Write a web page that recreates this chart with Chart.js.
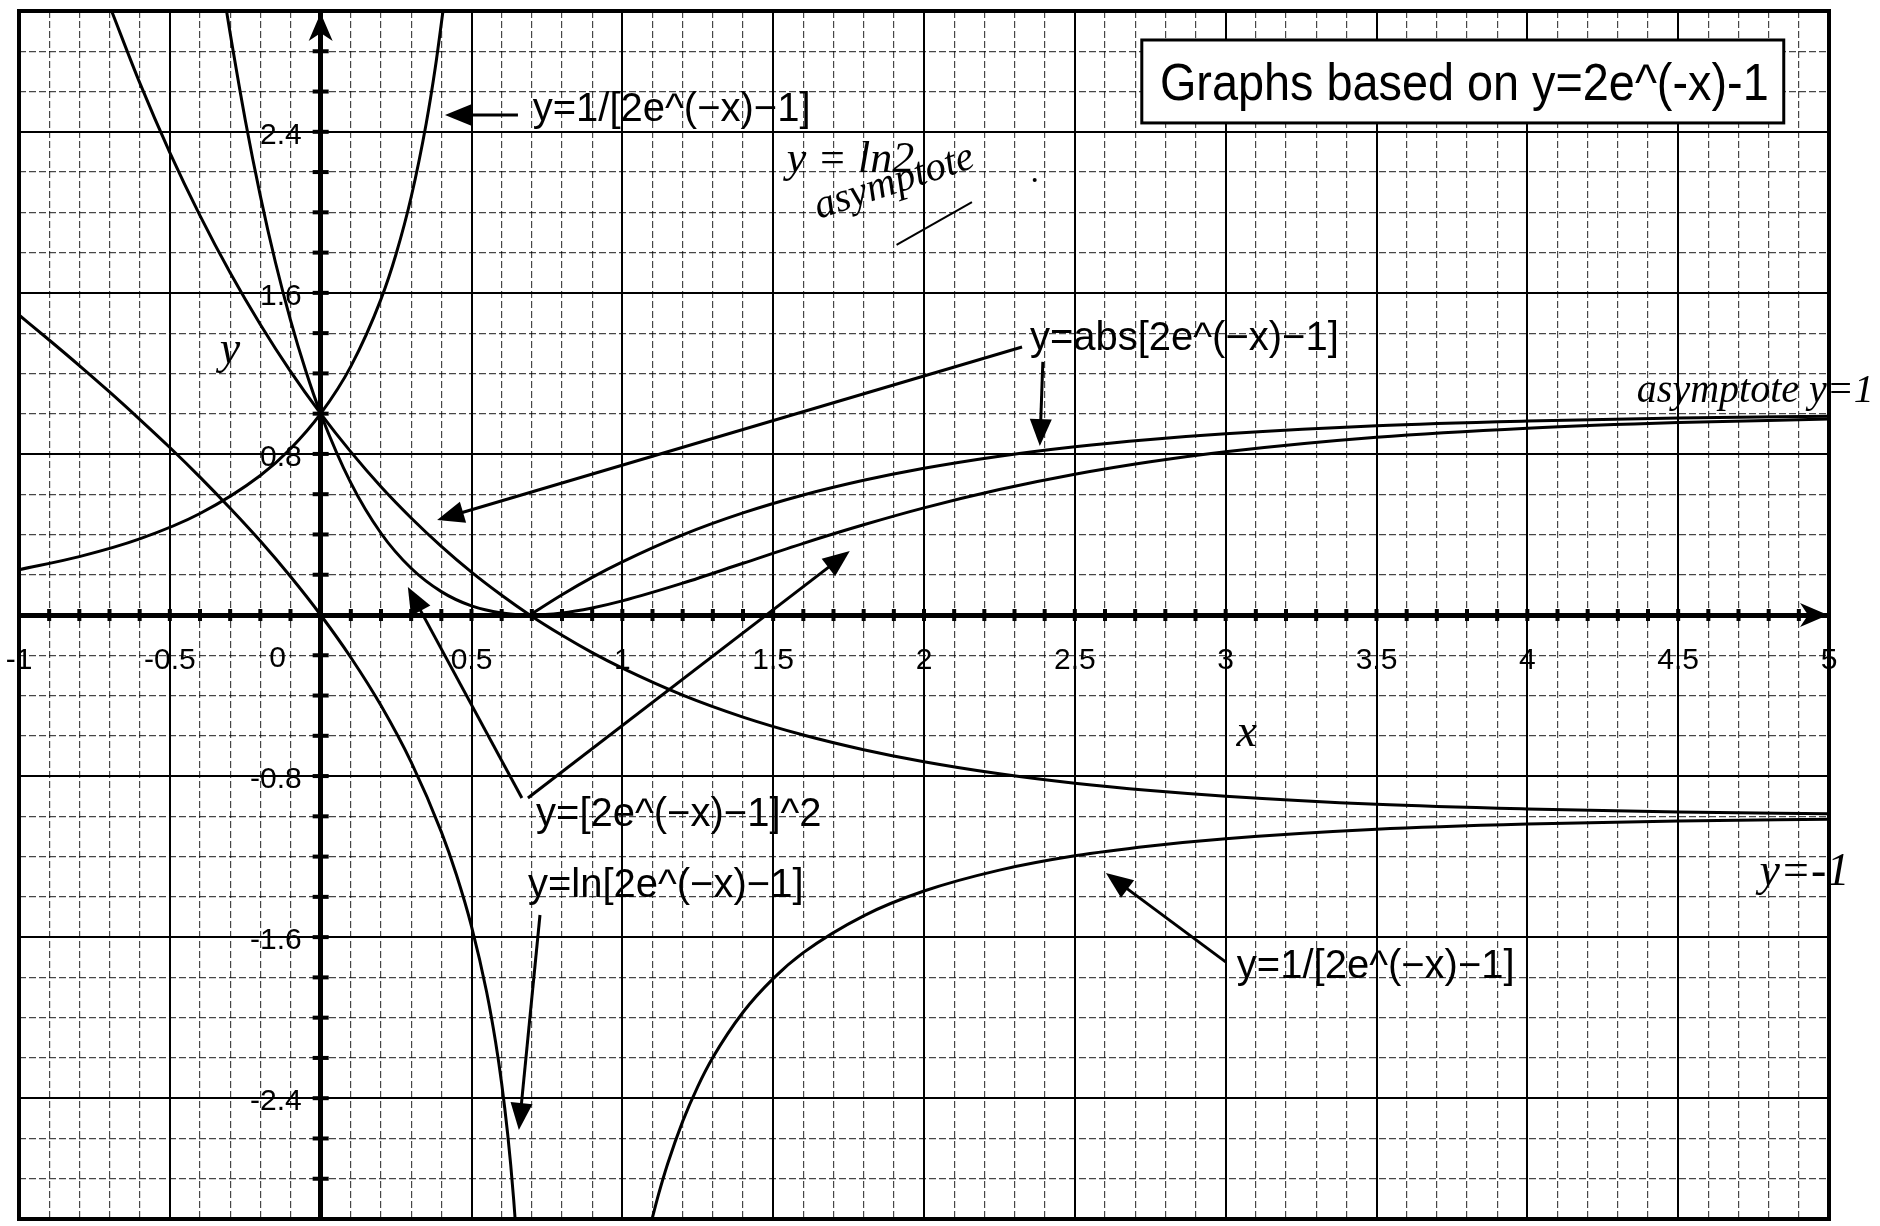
<!DOCTYPE html>
<html>
<head>
<meta charset="utf-8">
<title>Graphs based on y=2e^(-x)-1</title>
<script src="https://cdn.jsdelivr.net/npm/chart.js@4.4.1/dist/chart.umd.min.js"></script>
<style>
  html, body { margin: 0; padding: 0; background: #fff; }
  #wrap { width: 1880px; height: 1226px; }
</style>
</head>
<body>
<div id="wrap"><canvas id="myChart" width="1880" height="1226"></canvas></div>
<script>

// y = 2e^(-x) - 1  (also the left half of abs[...])
var baseX = [-0.693, -0.6, -0.5, -0.4, -0.3, -0.2, -0.1, 0, 0.1, 0.2, 0.3, 0.4, 0.5, 0.6, 0.693, 0.8, 0.9, 1, 1.2, 1.4, 1.6, 1.8, 2, 2.25, 2.5, 2.75, 3, 3.5, 4, 4.5, 5];
var baseY = [3, 2.644, 2.297, 1.984, 1.700, 1.443, 1.210, 1, 0.810, 0.637, 0.482, 0.341, 0.213, 0.098, 0, -0.101, -0.187, -0.264, -0.398, -0.507, -0.596, -0.669, -0.729, -0.789, -0.836, -0.872, -0.900, -0.940, -0.963, -0.978, -0.987];

// y = abs[2e^(-x) - 1], the part folded up above the x axis
var absX = [0.693, 0.8, 0.9, 1, 1.2, 1.4, 1.6, 1.8, 2, 2.25, 2.5, 2.75, 3, 3.5, 4, 4.5, 5];
var absY = [0, 0.101, 0.187, 0.264, 0.398, 0.507, 0.596, 0.669, 0.729, 0.789, 0.836, 0.872, 0.900, 0.940, 0.963, 0.978, 0.987];

// y = [2e^(-x) - 1]^2
var sqX = [-0.312, -0.3, -0.25, -0.2, -0.15, -0.1, -0.05, 0, 0.1, 0.2, 0.3, 0.4, 0.5, 0.6, 0.693, 0.8, 0.9, 1, 1.2, 1.4, 1.6, 1.8, 2, 2.25, 2.5, 2.75, 3, 3.5, 4, 4.5, 5];
var sqY = [3, 2.889, 2.459, 2.082, 1.752, 1.465, 1.216, 1, 0.656, 0.406, 0.232, 0.116, 0.045, 0.010, 0, 0.010, 0.035, 0.070, 0.158, 0.257, 0.356, 0.448, 0.532, 0.623, 0.699, 0.761, 0.811, 0.883, 0.928, 0.956, 0.973];

// y = ln[2e^(-x) - 1]
var lnX = [-1, -0.9, -0.8, -0.7, -0.6, -0.5, -0.4, -0.3, -0.2, -0.1, 0, 0.1, 0.2, 0.3, 0.4, 0.45, 0.5, 0.55, 0.58, 0.6, 0.62, 0.63, 0.64, 0.6446];
var lnY = [1.490, 1.366, 1.239, 1.108, 0.972, 0.832, 0.685, 0.530, 0.367, 0.191, 0, -0.211, -0.450, -0.731, -1.077, -1.290, -1.546, -1.871, -2.122, -2.327, -2.579, -2.731, -2.908, -3];

// y = 1/[2e^(-x) - 1], left branch
var recipLeftX = [-1, -0.8, -0.6, -0.4, -0.2, -0.1, 0, 0.1, 0.2, 0.25, 0.3, 0.35, 0.38, 0.4055];
var recipLeftY = [0.225, 0.290, 0.378, 0.504, 0.693, 0.826, 1, 1.235, 1.569, 1.793, 2.076, 2.443, 2.719, 3];

// y = 1/[2e^(-x) - 1], right branch
var recipRightX = [1.0986, 1.12, 1.15, 1.2, 1.25, 1.3, 1.4, 1.5, 1.6, 1.8, 2, 2.25, 2.5, 2.75, 3, 3.5, 4, 4.5, 5];
var recipRightY = [-3, -2.878, -2.727, -2.515, -2.342, -2.198, -1.973, -1.806, -1.677, -1.494, -1.371, -1.267, -1.196, -1.147, -1.111, -1.064, -1.038, -1.023, -1.014];

var xTickLabels = ['-1', '-0.5', '0.5', '1', '1.5', '2', '2.5', '3', '3.5', '4', '4.5', '5'];
var yTickLabels = ['2.4', '1.6', '0.8', '-0.8', '-1.6', '-2.4'];

var titleText = 'Graphs based on y=2e^(-x)-1';

// printed labels and the arrows pointing from them (data units)
var labels = [
    { text: 'y=1/[2e^(\u2212x)\u22121]', x: 0.703, y: 2.454 },
    { text: 'y=abs[2e^(\u2212x)\u22121]', x: 2.351, y: 1.316 },
    { text: 'y=[2e^(\u2212x)\u22121]^2', x: 0.714, y: -1.048 },
    { text: 'y=ln[2e^(\u2212x)\u22121]', x: 0.687, y: -1.401 },
    { text: 'y=1/[2e^(\u2212x)\u22121]', x: 3.037, y: -1.803 }
];
var arrows = [
    [0.654, 2.483, 0.412, 2.483],
    [2.325, 1.331, 0.386, 0.472],
    [2.394, 1.257, 2.384, 0.839],
    [0.667, -0.909, 0.289, 0.139],
    [0.687, -0.909, 1.754, 0.318],
    [0.727, -1.490, 0.657, -2.558],
    [3.001, -1.724, 2.603, -1.281]
];

var LABEL_FONT = '"Liberation Sans", Arial, sans-serif';
var HAND_FONT = '"Liberation Serif", "Times New Roman", serif';


function pairs(xs, ys) {
    return xs.map(function (x, i) { return { x: x, y: ys[i] }; });
}

function curve(xs, ys) {
    return {
        data: pairs(xs, ys),
        showLine: true,
        borderColor: '#000',
        borderWidth: 3,
        pointRadius: 0,
        fill: false,
        cubicInterpolationMode: 'monotone'
    };
}

function isMultiple(v, step) {
    var q = v / step;
    return Math.abs(q - Math.round(q)) < 1e-6;
}

// keep the axes sitting inside the grid from pushing the plot area in
function noPadding(scale) {
    scale.paddingLeft = 0;
    scale.paddingRight = 0;
    scale.paddingTop = 0;
    scale.paddingBottom = 0;
}

function arrowHead(ctx, x1, y1, x2, y2, len, half) {
    var a = Math.atan2(y2 - y1, x2 - x1);
    ctx.beginPath();
    ctx.moveTo(x2, y2);
    ctx.lineTo(x2 - len * Math.cos(a) + half * Math.sin(a), y2 - len * Math.sin(a) - half * Math.cos(a));
    ctx.lineTo(x2 - len * Math.cos(a) - half * Math.sin(a), y2 - len * Math.sin(a) + half * Math.cos(a));
    ctx.closePath();
    ctx.fill();
}

var paperNotes = {
    id: 'paperNotes',
    beforeDraw: function (chart) {
        var ctx = chart.ctx;
        ctx.save();
        ctx.fillStyle = '#fff';
        ctx.fillRect(0, 0, chart.width, chart.height);
        ctx.restore();
    },
    beforeDatasetsDraw: function (chart) {
        var ctx = chart.ctx;
        var a = chart.chartArea;
        var sx = chart.scales.x, sy = chart.scales.y;
        var x0 = sx.getPixelForValue(0), y0 = sy.getPixelForValue(0);
        ctx.save();
        ctx.fillStyle = '#000';

        // tick marks across the axes
        sx.ticks.forEach(function (t) {
            if (t.value <= sx.min || t.value >= sx.max - 0.05 || Math.abs(t.value) < 1e-6) return;
            var p = sx.getPixelForValue(t.value);
            ctx.fillRect(p - 2, y0 - 6, 4, 12);
        });
        sy.ticks.forEach(function (t) {
            if (t.value <= sy.min || t.value >= sy.max - 0.1 || Math.abs(t.value) < 1e-6) return;
            var p = sy.getPixelForValue(t.value);
            ctx.fillRect(x0 - 8, p - 2, 16, 4);
        });

        // y tick labels, to the left of the y axis
        ctx.font = '30px ' + LABEL_FONT;
        ctx.textAlign = 'right';
        ctx.textBaseline = 'middle';
        sy.ticks.forEach(function (t) {
            var s = String(Math.round(t.value * 10) / 10);
            if (yTickLabels.indexOf(s) < 0) return;
            ctx.fillText(s, x0 - 19, sy.getPixelForValue(t.value) + 4);
        });

        // origin label
        ctx.textAlign = 'center';
        ctx.fillText('0', sx.getPixelForValue(-0.143), y0 + 44);

        // arrowheads on the axes
        ctx.beginPath();
        ctx.moveTo(x0, a.top + 2);
        ctx.lineTo(x0 - 12, a.top + 30);
        ctx.lineTo(x0, a.top + 22);
        ctx.lineTo(x0 + 12, a.top + 30);
        ctx.closePath();
        ctx.fill();
        ctx.beginPath();
        ctx.moveTo(a.right - 1, y0);
        ctx.lineTo(a.right - 29, y0 - 12);
        ctx.lineTo(a.right - 21, y0);
        ctx.lineTo(a.right - 29, y0 + 12);
        ctx.closePath();
        ctx.fill();

        // frame of the sheet
        ctx.lineWidth = 4;
        ctx.strokeStyle = '#000';
        ctx.strokeRect(a.left, a.top, a.right - a.left, a.bottom - a.top);
        ctx.restore();
    },
    afterDatasetsDraw: function (chart) {
        var ctx = chart.ctx;
        var sx = chart.scales.x, sy = chart.scales.y;
        var px = function (v) { return sx.getPixelForValue(v); };
        var py = function (v) { return sy.getPixelForValue(v); };
        ctx.save();
        ctx.fillStyle = '#000';
        ctx.strokeStyle = '#000';

        // title box
        ctx.lineWidth = 3;
        ctx.fillStyle = '#fff';
        ctx.fillRect(px(2.722), py(2.856), px(4.85) - px(2.722), py(2.444) - py(2.856));
        ctx.strokeRect(px(2.722), py(2.856), px(4.85) - px(2.722), py(2.444) - py(2.856));
        ctx.fillStyle = '#000';
        ctx.font = '52px ' + LABEL_FONT;
        ctx.textAlign = 'left';
        ctx.textBaseline = 'alphabetic';
        ctx.fillText(titleText, px(2.782), py(2.56), px(4.8) - px(2.782));

        // curve labels
        ctx.font = '40px ' + LABEL_FONT;
        labels.forEach(function (l) {
            ctx.fillText(l.text, px(l.x), py(l.y));
        });

        // pointer arrows
        ctx.lineWidth = 3;
        arrows.forEach(function (r) {
            var x1 = px(r[0]), y1 = py(r[1]), x2 = px(r[2]), y2 = py(r[3]);
            var a = Math.atan2(y2 - y1, x2 - x1);
            ctx.beginPath();
            ctx.moveTo(x1, y1);
            ctx.lineTo(x2 - 20 * Math.cos(a), y2 - 20 * Math.sin(a));
            ctx.stroke();
            arrowHead(ctx, x1, y1, x2, y2, 27, 11);
        });

        // axis names
        ctx.font = 'italic 46px ' + HAND_FONT;
        ctx.textAlign = 'center';
        ctx.textBaseline = 'middle';
        ctx.fillText('y', px(-0.301), py(1.31));
        ctx.fillText('x', px(3.07), py(-0.59));

        // pencil notes
        ctx.textAlign = 'left';
        ctx.textBaseline = 'alphabetic';
        ctx.font = 'italic 44px ' + HAND_FONT;
        ctx.fillText('y = ln2', px(1.545), py(2.2));
        ctx.save();
        ctx.font = 'italic 41px ' + HAND_FONT;
        ctx.translate(px(1.651), py(1.967));
        ctx.rotate(-0.32);
        ctx.fillText('asymptote', 0, 0);
        ctx.restore();
        ctx.lineWidth = 2;
        ctx.beginPath();
        ctx.moveTo(px(1.909), py(1.838));
        ctx.lineTo(px(2.159), py(2.051));
        ctx.stroke();
        ctx.beginPath();
        ctx.arc(px(2.367), py(2.161), 2, 0, Math.PI * 2);
        ctx.fill();

        ctx.font = 'italic 40px ' + HAND_FONT;
        ctx.fillText('asymptote y=1', px(4.363), py(1.058));
        ctx.font = 'italic 46px ' + HAND_FONT;
        ctx.fillText('y=-1', px(4.77), py(-1.341));
        ctx.restore();
    }
};

function DrawChart() {
    var ctx = document.getElementById('myChart').getContext('2d');

    var myChart = new Chart(ctx, {
        type: 'scatter',
        data: {
            datasets: [
                curve(baseX, baseY),
                curve(absX, absY),
                curve(sqX, sqY),
                curve(lnX, lnY),
                curve(recipLeftX, recipLeftY),
                curve(recipRightX, recipRightY)
            ]
        },
        options: {
            responsive: false,
            animation: false,
            devicePixelRatio: 1,
            layout: { padding: { left: 19, right: 51, top: 11, bottom: 7 } },
            plugins: {
                legend: { display: false },
                tooltip: { enabled: false }
            },
            scales: {
                x: {
                    type: 'linear',
                    min: -1,
                    max: 5,
                    position: { y: 0 },
                    afterFit: noPadding,
                    ticks: {
                        stepSize: 0.1,
                        autoSkip: false,
                        maxRotation: 0,
                        padding: 28,
                        color: '#000',
                        font: { family: LABEL_FONT, size: 30 },
                        callback: function (value) {
                            var s = String(Math.round(value * 10) / 10);
                            return xTickLabels.indexOf(s) >= 0 ? s : '';
                        }
                    },
                    grid: {
                        drawTicks: false,
                        color: function (c) { return c.tick && isMultiple(c.tick.value, 0.5) ? '#000' : 'rgba(0,0,0,0.72)'; },
                        lineWidth: function (c) { return c.tick && isMultiple(c.tick.value, 0.5) ? 2 : 1.2; }
                    },
                    border: {
                        display: true,
                        color: '#000',
                        width: 5,
                        z: 1,
                        dash: function (c) { return c.tick && !isMultiple(c.tick.value, 0.5) ? [7, 3] : []; }
                    }
                },
                y: {
                    type: 'linear',
                    min: -3,
                    max: 3,
                    position: { x: 0 },
                    afterFit: noPadding,
                    ticks: {
                        stepSize: 0.2,
                        autoSkip: false,
                        display: false
                    },
                    grid: {
                        drawTicks: false,
                        color: function (c) { return c.tick && isMultiple(c.tick.value, 0.8) ? '#000' : 'rgba(0,0,0,0.72)'; },
                        lineWidth: function (c) { return c.tick && isMultiple(c.tick.value, 0.8) ? 2 : 1.2; }
                    },
                    border: {
                        display: true,
                        color: '#000',
                        width: 5,
                        z: 1,
                        dash: function (c) { return c.tick && !isMultiple(c.tick.value, 0.8) ? [7, 3] : []; }
                    }
                }
            }
        },
        plugins: [paperNotes]
    });
    return myChart;
}

DrawChart();
</script>
</body>
</html>
